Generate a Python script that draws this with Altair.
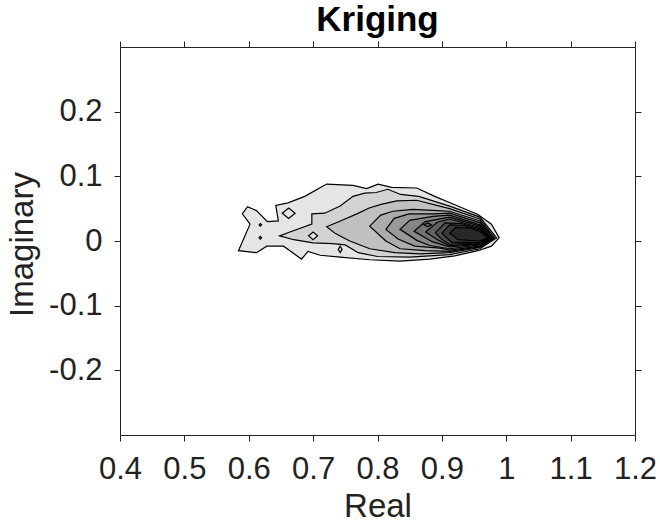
import altair as alt
import pandas as pd

X_TICKS = [0.4, 0.5, 0.6, 0.7, 0.8, 0.9, 1.0, 1.1, 1.2]
Y_TICKS = [-0.2, -0.1, 0.0, 0.1, 0.2]
X_DOMAIN = [0.4, 1.2]
Y_DOMAIN = [-0.3, 0.3]

# fill grey of each contour level (light -> dark)
LEVEL_GREYS = ["#e5e5e5", "#d3d3d3", "#c0c0c0", "#acacac", "#999999",
               "#868686", "#737373", "#606060", "#4d4d4d", "#3a3a3a", "#282828"]

# contour polygons (Real, Imaginary)
C1_X = [0.590, 0.598, 0.612, 0.629, 0.646, 0.642, 0.661, 0.687, 0.721, 0.762, 0.783, 0.801, 0.822,
        0.861, 0.889, 0.920, 0.956, 0.977, 0.989, 0.977, 0.956, 0.920, 0.881, 0.835, 0.788, 0.742,
        0.711, 0.692, 0.682, 0.654, 0.628, 0.612, 0.584, 0.602]
C1_Y = [0.042, 0.053, 0.047, 0.030, 0.031, 0.055, 0.059, 0.069, 0.088, 0.086, 0.081, 0.088, 0.083,
        0.082, 0.069, 0.056, 0.041, 0.026, 0.005, -0.008, -0.015, -0.023, -0.028, -0.031, -0.029, -0.025,
        -0.022, -0.016, -0.028, -0.008, -0.008, -0.018, -0.015, 0.026]
D1_X = [0.652, 0.662, 0.672, 0.662]
D1_Y = [0.043, 0.051, 0.043, 0.035]

C2_X = [0.648, 0.664, 0.698, 0.698, 0.718, 0.742, 0.762, 0.780, 0.798, 0.816, 0.836, 0.864, 0.912,
        0.959, 0.985, 0.959, 0.912, 0.850, 0.800, 0.770, 0.750, 0.730, 0.700, 0.670]
C2_Y = [0.008, 0.014, 0.026, 0.042, 0.043, 0.054, 0.069, 0.074, 0.075, 0.080, 0.072, 0.069, 0.054,
        0.037, 0.005, -0.012, -0.021, -0.025, -0.024, -0.018, -0.006, -0.004, -0.003, 0.002]
D2_X = [0.693, 0.700, 0.707, 0.700]
D2_Y = [0.008, 0.014, 0.008, 0.002]
T2_X = [0.742, 0.745, 0.742, 0.739]
T2_Y = [-0.008, -0.013, -0.018, -0.013]
P1_X = [0.616, 0.618, 0.620, 0.618]
P1_Y = [0.025, 0.027, 0.025, 0.023]
P2_X = [0.616, 0.618, 0.620, 0.618]
P2_Y = [0.005, 0.007, 0.005, 0.003]

C3_X = [0.721, 0.745, 0.768, 0.787, 0.807, 0.830, 0.861, 0.892, 0.912, 0.959, 0.982, 0.959, 0.912,
        0.866, 0.827, 0.788, 0.757, 0.734]
C3_Y = [0.022, 0.032, 0.042, 0.051, 0.057, 0.062, 0.063, 0.055, 0.050, 0.034, 0.005, -0.010, -0.018,
        -0.020, -0.018, -0.012, 0.000, 0.012]
C4_X = [0.788, 0.805, 0.824, 0.855, 0.893, 0.912, 0.959, 0.980, 0.959, 0.912, 0.874, 0.835, 0.813]
C4_Y = [0.023, 0.040, 0.046, 0.049, 0.047, 0.046, 0.031, 0.005, -0.009, -0.016, -0.015, -0.012, 0.000]
C5_X = [0.813, 0.826, 0.849, 0.888, 0.912, 0.959, 0.979, 0.959, 0.912, 0.897, 0.858, 0.832]
C5_Y = [0.018, 0.035, 0.042, 0.042, 0.043, 0.028, 0.005, -0.008, -0.014, -0.011, -0.008, 0.003]
C6_X = [0.835, 0.850, 0.886, 0.912, 0.959, 0.977, 0.959, 0.912, 0.881, 0.861]
C6_Y = [0.018, 0.032, 0.038, 0.040, 0.025, 0.005, -0.006, -0.012, -0.007, 0.001]
C7_X = [0.857, 0.874, 0.912, 0.959, 0.976, 0.959, 0.912, 0.885]
C7_Y = [0.015, 0.030, 0.037, 0.023, 0.005, -0.005, -0.009, -0.001]
I8_X = [0.872, 0.878, 0.884, 0.878]
I8_Y = [0.025, 0.028, 0.025, 0.022]
C8_X = [0.875, 0.893, 0.912, 0.959, 0.975, 0.959, 0.912, 0.893]
C8_Y = [0.014, 0.029, 0.034, 0.021, 0.005, -0.004, -0.007, 0.002]
C9_X = [0.890, 0.905, 0.930, 0.959, 0.974, 0.959, 0.912, 0.898]
C9_Y = [0.013, 0.028, 0.027, 0.019, 0.005, -0.003, -0.005, 0.004]
C10_X = [0.900, 0.912, 0.935, 0.959, 0.973, 0.959, 0.915]
C10_Y = [0.012, 0.025, 0.024, 0.017, 0.005, -0.002, -0.002]
C11_X = [0.912, 0.922, 0.945, 0.960, 0.971, 0.958, 0.925]
C11_Y = [0.012, 0.021, 0.020, 0.014, 0.005, 0.000, 0.002]

# drawing order: (level, xs, ys)
CONTOURS = [
    (0, C1_X, C1_Y), (0, D1_X, D1_Y),
    (1, C2_X, C2_Y), (0, D2_X, D2_Y), (1, T2_X, T2_Y), (1, P1_X, P1_Y), (1, P2_X, P2_Y),
    (2, C3_X, C3_Y), (3, C4_X, C4_Y), (4, C5_X, C5_Y), (5, C6_X, C6_Y),
    (6, C7_X, C7_Y), (7, I8_X, I8_Y), (7, C8_X, C8_Y), (8, C9_X, C9_Y),
    (9, C10_X, C10_Y), (10, C11_X, C11_Y),
]

FONT = "Liberation Sans"
INK = "#222222"
LABEL_EXPR = "datum.value < 0 ? '-' + format(-datum.value, '.1~f') : format(datum.value, '.1~f')"

xscale = alt.Scale(domain=X_DOMAIN, nice=False, zero=False)
yscale = alt.Scale(domain=Y_DOMAIN, nice=False, zero=False)

tick_style = dict(grid=False, tickSize=6, tickColor=INK, domainColor=INK, tickWidth=1,
                  domainWidth=1, labelFont=FONT, labelFontSize=31, labelColor=INK,
                  labelOverlap=False, labelFlush=False, labelBound=False)
title_style = dict(titleFont=FONT, titleFontSize=33, titleColor=INK, titleFontWeight="normal",
                   titleBaseline="alphabetic")

x_axis = alt.Axis(values=X_TICKS, labelExpr=LABEL_EXPR, title="Real", labelPadding=13,
                  titleY=81, **tick_style, **title_style)
y_axis = alt.Axis(values=Y_TICKS, labelExpr=LABEL_EXPR, title="Imaginary", labelPadding=12,
                  titleX=-88, titleY=197, **tick_style, **title_style)

layers = []
for level, xs, ys in CONTOURS:
    df = pd.DataFrame({"x": xs, "y": ys, "i": list(range(len(xs)))})
    layers.append(
        alt.Chart(df).mark_line(interpolate="linear-closed", fill=LEVEL_GREYS[level],
                                stroke="black", strokeWidth=1.2, strokeJoin="miter")
        .encode(x=alt.X("x:Q", scale=xscale, axis=x_axis),
                y=alt.Y("y:Q", scale=yscale, axis=y_axis),
                order=alt.Order("i:Q"))
    )

contour_layer = alt.layer(*layers)

box = alt.Chart(pd.DataFrame({"x": [X_DOMAIN[0]], "y": [0.0]})).mark_point(opacity=0).encode(
    x=alt.X("x:Q", scale=xscale,
            axis=alt.Axis(orient="top", values=X_TICKS, labels=False, title=None, **tick_style)),
    y=alt.Y("y:Q", scale=yscale,
            axis=alt.Axis(orient="right", values=Y_TICKS, labels=False, title=None, **tick_style)),
)

chart = alt.layer(contour_layer, box).resolve_scale(
    x="independent", y="independent"
).properties(
    width=515, height=388,
    padding={"left": 120, "top": 47, "right": 25, "bottom": 88},
    autosize=alt.AutoSizeParams(type="none"),
    title=alt.TitleParams("Kriging", font=FONT, fontSize=35, fontWeight="bold", color="black",
                          anchor="middle", baseline="alphabetic", offset=4, dy=29),
).configure_view(stroke=None).configure(background="white")

chart.save("out.html", embed_options={"renderer": "svg", "actions": False})
